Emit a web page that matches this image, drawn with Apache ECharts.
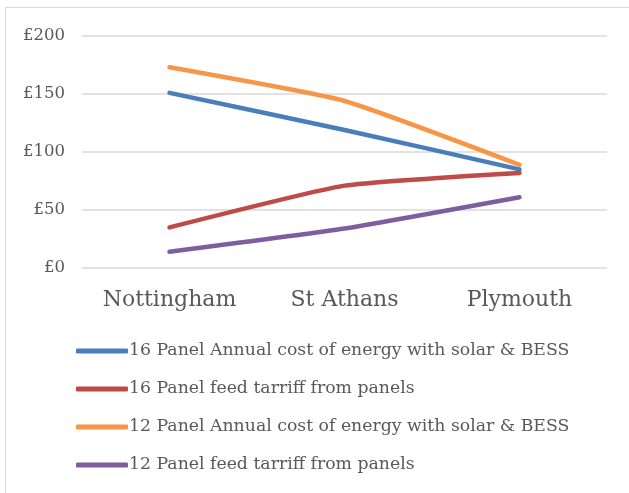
<!DOCTYPE html>
<html><head><meta charset="utf-8">
<script src="https://cdn.jsdelivr.net/npm/echarts@6/dist/echarts.min.js"></script>
<style>
html,body{margin:0;padding:0;background:#fff;}
#frame{position:absolute;left:5px;top:7px;width:640px;height:500px;border:1px solid #d9d9d9;box-sizing:border-box;}
#c{position:absolute;left:0;top:0;width:629px;height:493px;}
</style></head>
<body><div id="frame"></div><div id="c"></div>
<script>
const categories = ['Nottingham', 'St Athans', 'Plymouth'];
const seriesNames = [
  '16 Panel Annual cost of energy with solar & BESS',
  '16 Panel feed tarriff from panels',
  '12 Panel Annual cost of energy with solar & BESS',
  '12 Panel feed tarriff from panels'
];
const cost16 = [151, 119, 85];
const feed16 = [35, 71, 82];
const cost12 = [173, 144, 89];
const feed12 = [14, 34, 61];
const yTicks = [0, 50, 100, 150, 200];
const colors = ['#4a7ebb', '#be4b48', '#f79646', '#7d5fa0'];
const values = [cost16, feed16, cost12, feed12];

const font = '"DejaVu Serif", serif';
const chart = echarts.init(document.getElementById('c'));
chart.setOption({
  animation: false,
  grid: {left: 82, right: 22, top: 36, bottom: 225, containLabel: false},
  xAxis: {
    type: 'category', data: categories, boundaryGap: true,
    axisLine: {show: false}, axisTick: {show: false},
    axisLabel: {color: '#595959', fontFamily: font, fontSize: 22, margin: 21}
  },
  yAxis: {
    type: 'value', min: yTicks[0], max: yTicks[yTicks.length - 1], interval: 50,
    axisLine: {show: false}, axisTick: {show: false},
    axisLabel: {color: '#595959', fontFamily: font, fontSize: 16.5, margin: 17, formatter: v => '£' + v},
    splitLine: {lineStyle: {color: '#d9d9d9', width: 1.5}}
  },
  legend: {
    orient: 'vertical', left: 71, top: 336, itemWidth: 52, itemHeight: 5, itemGap: 18,
    icon: 'roundRect',
    textStyle: {color: '#595959', fontFamily: font, fontSize: 17.3, padding: [0, 0, 0, -4], lineHeight: 20},
    data: seriesNames
  },
  series: seriesNames.map((n, i) => ({
    name: n, type: 'line', data: values[i], smooth: 0.15, symbol: 'none',
    lineStyle: {color: colors[i], width: 4.5, cap: 'round'},
    itemStyle: {color: colors[i]}
  }))
});
</script></body></html>
